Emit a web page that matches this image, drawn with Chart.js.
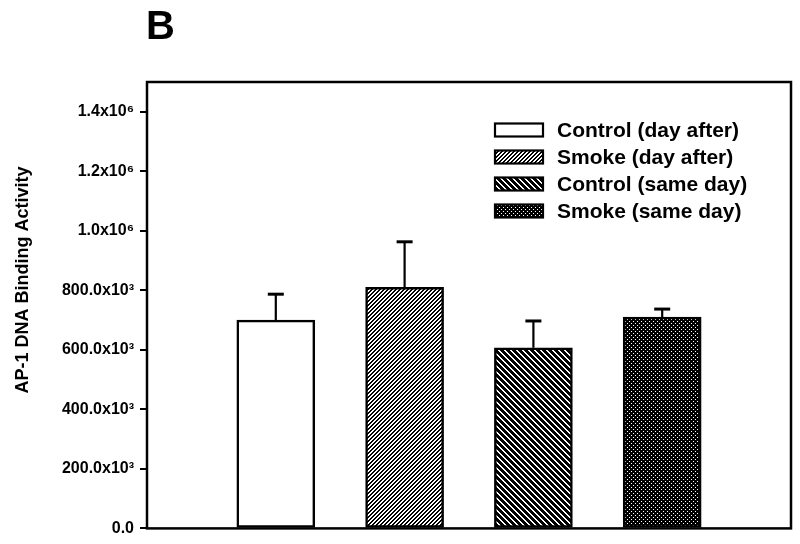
<!DOCTYPE html>
<html>
<head>
<meta charset="utf-8">
<script src="https://cdn.jsdelivr.net/npm/chart.js@4/dist/chart.umd.min.js"></script>
<style>
  body { margin: 0; background: #fff; }
</style>
</head>
<body>
<canvas id="myChart" width="800" height="544"></canvas>
<script>
const groups = ["Control (day after)", "Smoke (day after)", "Control (same day)", "Smoke (same day)"];
const positions = [1, 2, 3, 4];
const means = [700000, 810000, 607000, 710000];
const errors = [87000, 153000, 90000, 27000];
const tickValues = [0, 200000, 400000, 600000, 800000, 1000000, 1200000, 1400000];
const tickLabels = ["0.0", "200.0x10³", "400.0x10³", "600.0x10³", "800.0x10³", "1.0x10⁶", "1.2x10⁶", "1.4x10⁶"];

const FONT = "'Liberation Sans', Arial, sans-serif";

// small pixel tiles for the bar fills
function tile(w, h, isBlack) {
  var c = document.createElement("canvas");
  c.width = w;
  c.height = h;
  var g = c.getContext("2d");
  var img = g.createImageData(w, h);
  for (var y = 0; y < h; y++) {
    for (var x = 0; x < w; x++) {
      var v = isBlack(x, y) ? 0 : 255;
      var i = (y * w + x) * 4;
      img.data[i] = img.data[i + 1] = img.data[i + 2] = v;
      img.data[i + 3] = 255;
    }
  }
  g.putImageData(img, 0, 0);
  return g.createPattern(c, "repeat");
}

var ctx = document.getElementById("myChart").getContext("2d");
var fills = [
  "#ffffff",
  tile(4, 4, (x, y) => (x + y) % 4 < 2),
  tile(6, 6, (x, y) => (x - y + 12) % 6 < 4),
  tile(4, 4, (x, y) => !((x == 1 && y == 1) || (x == 3 && y == 3))),
];

const decorations = {
  id: "decorations",
  afterDatasetsDraw(chart) {
    var c = chart.ctx;
    var a = chart.chartArea;
    var xs = chart.scales.x, ys = chart.scales.y;
    c.save();
    // error bars (upper only)
    c.strokeStyle = "#000";
    positions.forEach((p, i) => {
      var px = xs.getPixelForValue(p);
      var top = ys.getPixelForValue(means[i]);
      var hi = ys.getPixelForValue(means[i] + errors[i]);
      c.lineWidth = 2.2;
      c.beginPath();
      c.moveTo(px, top);
      c.lineTo(px, hi);
      c.stroke();
      c.lineWidth = 3;
      c.beginPath();
      c.moveTo(px - 8, hi);
      c.lineTo(px + 8, hi);
      c.stroke();
    });
    // frame
    c.lineWidth = 2.5;
    c.strokeRect(a.left, a.top, a.right - a.left, a.bottom - a.top);
    // legend
    c.font = "bold 21px " + FONT;
    c.textBaseline = "middle";
    c.fillStyle = "#000";
    groups.forEach((g, i) => {
      var y = 130 + i * 27;
      c.fillStyle = fills[i];
      c.fillRect(495, y - 6.5, 48, 13);
      c.lineWidth = 2.2;
      c.strokeRect(495, y - 6.5, 48, 13);
      c.fillStyle = "#000";
      c.fillText(g, 557, y + 1);
    });
    // y title
    c.save();
    c.translate(23, 280);
    c.rotate(-Math.PI / 2);
    c.textAlign = "center";
    c.font = "bold 18px " + FONT;
    c.fillText("AP-1 DNA Binding Activity", 0, 0);
    c.restore();
    // panel letter
    c.font = "bold 40px " + FONT;
    c.textBaseline = "alphabetic";
    c.fillText("B", 146, 39);
    c.restore();
  },
};

var myChart = new Chart(ctx, {
  type: "bar",
  data: {
    datasets: groups.map((g, i) => ({
      label: g,
      data: [{ x: positions[i], y: means[i] }],
      backgroundColor: fills[i],
      borderColor: "#000",
      borderWidth: 2.5,
      borderSkipped: false,
      barThickness: 78,
      grouped: false,
    })),
  },
  plugins: [decorations],
  options: {
    responsive: false,
    animation: false,
    layout: { padding: { top: 82, right: 9, bottom: 12, left: 0 } },
    plugins: { legend: { display: false }, tooltip: { enabled: false } },
    scales: {
      x: {
        type: "linear",
        min: 0,
        max: 5,
        offset: false,
        grid: { display: false },
        border: { display: false },
        ticks: { display: false },
        afterFit: (s) => { s.height = 0; },
      },
      y: {
        min: 0,
        max: 1500000,
        afterBuildTicks: (s) => { s.ticks = tickValues.map((v) => ({ value: v })); },
        afterFit: (s) => { s.width = 147; },
        grid: { drawOnChartArea: false, tickLength: 7, color: "#000", lineWidth: 2 },
        border: { display: false },
        ticks: {
          color: "#000",
          padding: 6,
          font: { family: FONT, size: 16, weight: "bold" },
          callback: (v) => tickLabels[tickValues.indexOf(v)],
        },
      },
    },
  },
});
</script>
</body>
</html>
